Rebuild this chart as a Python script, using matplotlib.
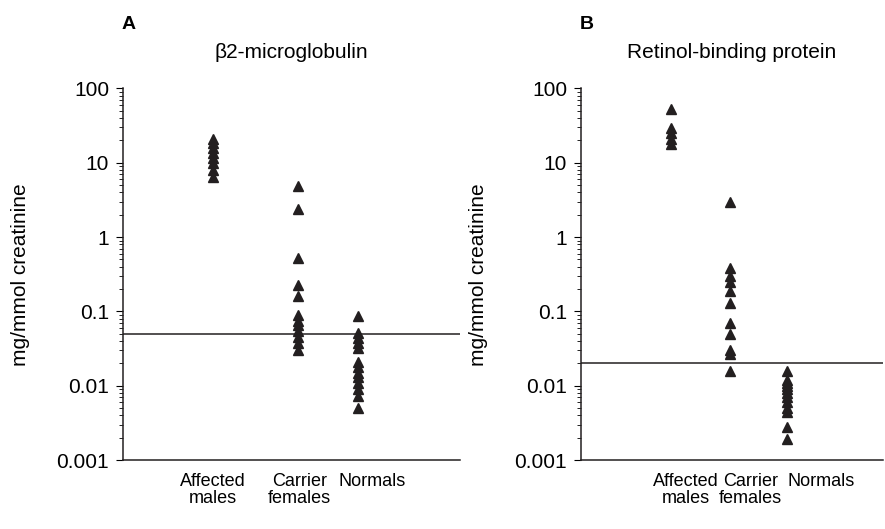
import matplotlib.pyplot as plt
from matplotlib.ticker import LogLocator, NullFormatter, FixedLocator

plt.rcParams['font.family'] = ['Liberation Sans', 'DejaVu Sans']

groups = ['Affected\nmales', 'Carrier\nfemales', 'Normals']

# panel A: beta2-microglobulin (mg/mmol creatinine)
b2m_affected = [21, 18.5, 16, 13.5, 11.5, 9.8, 8, 6.5]
b2m_carrier = [4.8, 2.4, 0.52, 0.23, 0.16, 0.09, 0.075, 0.065, 0.055, 0.045, 0.038, 0.03]
b2m_normals = [0.088, 0.052, 0.044, 0.038, 0.032, 0.021, 0.018, 0.015, 0.013, 0.011, 0.0092, 0.0074, 0.005]
b2m_cutoff = 0.05

# panel B: retinol-binding protein (mg/mmol creatinine)
rbp_affected = [52, 29, 25, 21, 18]
rbp_carrier = [3.0, 0.38, 0.30, 0.25, 0.19, 0.13, 0.07, 0.05, 0.03, 0.027, 0.016]
rbp_normals = [0.016, 0.012, 0.011, 0.010, 0.009, 0.008, 0.007, 0.006, 0.005, 0.0045, 0.0028, 0.0019]
rbp_cutoff = 0.02

fig = plt.figure(figsize=(8.85, 5.29), dpi=100)
axA = fig.add_axes([0.139, 0.130, 0.381, 0.703])
axB = fig.add_axes([0.6565, 0.130, 0.341, 0.703])

col = '#231f20'
fs = 15

def panel(ax, data, xpos, labpos, xmax, cutoff, title, letter):
    for x, vals in zip(xpos, data):
        ax.plot([x] * len(vals), vals, '^', color=col, markersize=7, linestyle='none')
    ax.axhline(cutoff, color=col, lw=1.1)
    ax.set_yscale('log')
    ax.set_ylim(0.001, 100)
    ax.set_xlim(0, xmax)
    ax.yaxis.set_minor_locator(LogLocator(base=10, subs=range(2, 10), numticks=10))
    ax.yaxis.set_minor_formatter(NullFormatter())
    ax.set_yticks([0.001, 0.01, 0.1, 1, 10, 100])
    ax.set_yticklabels(['0.001', '0.01', '0.1', '1', '10', '100'])
    ax.xaxis.set_major_locator(FixedLocator(labpos))
    ax.set_xticklabels(groups, linespacing=1.05)
    ax.tick_params(axis='x', length=0, pad=9, labelsize=13)
    ax.tick_params(axis='y', which='major', length=5, direction='out', labelsize=fs, pad=5)
    ax.tick_params(axis='y', which='minor', length=3, direction='out')
    for s in ['top', 'right']:
        ax.spines[s].set_visible(False)
    for s in ['left', 'bottom']:
        ax.spines[s].set_color(col)
        ax.spines[s].set_linewidth(1.1)
    ax.set_ylabel('mg/mmol creatinine', fontsize=fs, labelpad=19)
    ax.set_title(title, fontsize=fs, pad=22)
    ax.text(-0.005, 1.15, letter, transform=ax.transAxes, fontsize=fs - 1,
            fontweight='bold', ha='left', va='bottom')

panel(axA, [b2m_affected, b2m_carrier, b2m_normals],
      [1.07, 2.08, 2.79], [1.07, 2.09, 2.96], 4.0, b2m_cutoff,
      '\u03b22-microglobulin', 'A')
panel(axB, [rbp_affected, rbp_carrier, rbp_normals],
      [1.53, 2.53, 3.49], [1.78, 2.88, 4.08], 5.12, rbp_cutoff,
      'Retinol-binding protein', 'B')

fig.savefig('out.png', dpi=100)
